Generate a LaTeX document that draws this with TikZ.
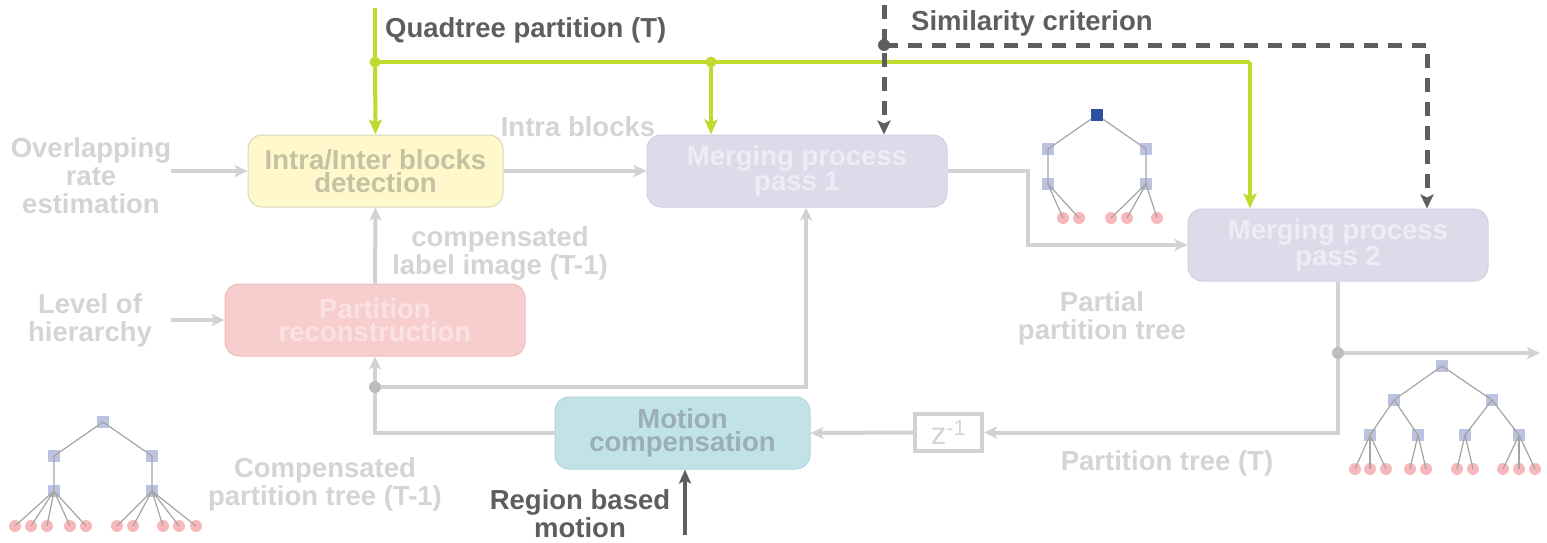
\documentclass[tikz,border=0pt]{standalone}
\usepackage{fontspec}
\setmainfont{Liberation Sans}
\usetikzlibrary{arrows.meta,calc}

\definecolor{lime}{HTML}{C2D92E}
\definecolor{darkg}{HTML}{5E5E5E}
\definecolor{lineg}{HTML}{D2D2D2}
\definecolor{labelg}{HTML}{D4D4D4}
\definecolor{dotg}{HTML}{BDBDBD}
\definecolor{yelfill}{HTML}{FFF8CC}
\definecolor{yeldraw}{HTML}{D8D5BC}
\definecolor{yeltext}{HTML}{C6C1A2}
\definecolor{lavfill}{HTML}{DDDAEA}
\definecolor{lavdraw}{HTML}{D2CFE2}
\definecolor{lavtext}{HTML}{EEEDF5}
\definecolor{pinkfill}{HTML}{F8CDCE}
\definecolor{pinkdraw}{HTML}{EBBDBE}
\definecolor{pinktext}{HTML}{FBE2E2}
\definecolor{cyanfill}{HTML}{C2E2E9}
\definecolor{cyandraw}{HTML}{B2D5DC}
\definecolor{cyantext}{HTML}{9AAFB5}
\definecolor{sqfill}{HTML}{BCC3E0}
\definecolor{leaffill}{HTML}{F8B8BB}
\definecolor{rootfill}{HTML}{2F4FA3}
\definecolor{treeline}{HTML}{A4A4A4}

\tikzset{
  proc/.style={rounded corners=14pt, line width=1pt, minimum height=72pt,
    inner sep=0pt, align=center, font=\fontsize{27.5}{23.5}\selectfont\bfseries},
  lbl/.style={inner sep=0pt, align=center, text=labelg,
    font=\fontsize{27.5}{28}\selectfont\bfseries},
  dlbl/.style={lbl, text=darkg},
  gline/.style={draw=lineg, line width=4pt},
  garrow/.style={gline, -{Stealth[length=13pt,width=12pt,inset=3pt]}},
  limeline/.style={draw=lime, line width=4pt},
  limearrow/.style={limeline, -{Stealth[length=15pt,width=13pt,inset=3pt]}},
  dashline/.style={draw=darkg, line width=5pt, dash pattern=on 14pt off 10pt},
  dasharrow/.style={dashline, -{Stealth[length=14pt,width=13pt,inset=3pt]}},
  darrow/.style={draw=darkg, line width=4pt, -{Stealth[length=14pt,width=12pt,inset=3pt]}},
  sq/.style={fill=sqfill, minimum size=12pt, inner sep=0pt},
  rootsq/.style={fill=rootfill, minimum size=12pt, inner sep=0pt},
  leaf/.style={circle, fill=leaffill, minimum size=12pt, inner sep=0pt},
  tedge/.style={draw=treeline, line width=1.2pt},
}

\begin{document}
\begin{tikzpicture}[x=1pt,y=-1pt]
\useasboundingbox (0,0) rectangle (1547,542);

% processing blocks
\node[proc, fill=yelfill, draw=yeldraw, text=yeltext, minimum width=255pt]
  (intra) at (375.5,171) {Intra/Inter blocks\\detection};
\node[proc, fill=lavfill, draw=lavdraw, text=lavtext, minimum width=300pt]
  (merge1) at (797,171) {Merging process\\pass 1};
\node[proc, fill=lavfill, draw=lavdraw, text=lavtext, minimum width=300pt]
  (merge2) at (1338,245) {Merging process\\pass 2};
\node[proc, fill=pinkfill, draw=pinkdraw, text=pinktext, minimum width=300pt]
  (recon) at (375,320) {Partition\\reconstruction};
\node[proc, fill=cyanfill, draw=cyandraw, text=cyantext, minimum width=255pt]
  (motion) at (682.5,433) {Motion\\compensation};
\node[draw=lineg, line width=4pt, fill=white, minimum width=67pt, minimum height=37pt,
  inner sep=0pt, text=labelg, font=\fontsize{31}{31}\selectfont]
  (zbox) at (948.5,432.5) {z\textsuperscript{-1}};

% labels
\node[lbl] (overlap) at (91,176) {Overlapping\\rate\\estimation};
\node[lbl] (level) at (90,320) {Level of\\hierarchy};
\node[lbl] (intralbl) at (578,127) {Intra blocks};
\node[lbl] (complbl) at (500,253) {compensated\\label image (T-1)};
\node[lbl] (partial) at (1102,318) {Partial\\partition tree};
\node[lbl] (comptree) at (325,484) {Compensated\\partition tree (T-1)};
\node[lbl] (ptree) at (1167,463) {Partition tree (T)};
\node[dlbl] (rbmlbl) at (580,514) {Region based\\motion};
\node[dlbl, anchor=base west] (qtlbl) at (385,37) {Quadtree partition (T)};
\node[dlbl, anchor=base west] (simlbl) at (911,30) {Similarity criterion};

% quadtree partition feed
\coordinate (qtop) at (375,8);
\coordinate (qsplit) at (375,62);
\coordinate (q2) at (711,62);
\coordinate (qcorner) at (1250,62);
\draw[limeline] (qtop) -- (qsplit) -- (qcorner);
\draw[limearrow] (qsplit) -- (intra.north);
\draw[limearrow] (q2) -- (q2 |- merge1.north);
\draw[limearrow] (qcorner) -- (qcorner |- merge2.north);
\fill[lime] (qsplit) circle (5.5) (q2) circle (5.5);

% similarity criterion feed
\coordinate (stop) at (884,5);
\coordinate (ssplit) at (884,45);
\coordinate (scorner) at (1427,45);
\draw[dasharrow] (stop) -- (stop |- merge1.north);
\draw[dasharrow] (ssplit) -- (scorner) -- (scorner |- merge2.north);
\fill[darkg] (ssplit) circle (6);

% main data flow
\draw[garrow] (overlap.east |- intra.west) -- (intra.west);
\draw[garrow] (overlap.east |- recon.west) -- (recon.west);
\draw[garrow] (intra.east) -- (merge1.west);
\coordinate (m1turn) at (1028,171);
\draw[garrow] (merge1.east) -- (m1turn) |- (merge2.west);
\coordinate (outsplit) at (1338,353);
\coordinate (outend) at (1540,353);
\draw[garrow] (merge2.south) |- (zbox.east);
\draw[garrow] (outsplit) -- (outend);
\draw[garrow] (zbox.west) -- (motion.east);
\draw[garrow] (motion.west) -| (recon.south);
\coordinate (bsplit) at (375,387);
\coordinate (m1in) at (806,387);
\draw[garrow] (bsplit) -- (m1in) -- (m1in |- merge1.south);
\draw[garrow] (recon.north) -- (intra.south);
\fill[dotg] (bsplit) circle (6) (outsplit) circle (6);
\coordinate (rbm) at (685,535);
\draw[darrow] (rbm) -- (rbm |- motion.south);

% partial partition tree
\node[rootsq] (a0) at (1097,115) {};
\node[sq] (a1) at (1048,149) {};
\node[sq] (a2) at (1146,149) {};
\node[sq] (a3) at (1048,184) {};
\node[sq] (a4) at (1146,184) {};
\foreach \x [count=\i] in {1063,1079} \node[leaf] (al\i) at (\x,218) {};
\foreach \x [count=\i] in {1111,1127,1157} \node[leaf] (ar\i) at (\x,218) {};
\draw[tedge] (a0) -- (a1.center) -- (a3.center) (a0) -- (a2.center) -- (a4.center);
\foreach \i in {1,2} \draw[tedge] (a3.center) -- (al\i.center);
\foreach \i in {1,2,3} \draw[tedge] (a4.center) -- (ar\i.center);

% compensated partition tree
\node[sq] (b0) at (103,422) {};
\node[sq] (b1) at (54,456) {};
\node[sq] (b2) at (152,456) {};
\node[sq] (b3) at (54,491) {};
\node[sq] (b4) at (152,491) {};
\foreach \x [count=\i] in {15,31,47,70,86} \node[leaf] (bl\i) at (\x,526) {};
\foreach \x [count=\i] in {117,133,163,179,196} \node[leaf] (br\i) at (\x,526) {};
\draw[tedge] (b0.center) -- (b1.center) -- (b3.center) (b0.center) -- (b2.center) -- (b4.center);
\foreach \i in {1,...,5} \draw[tedge] (b3.center) -- (bl\i.center) (b4.center) -- (br\i.center);

% partition tree
\node[sq] (c0) at (1442,366) {};
\node[sq] (c1) at (1394,400) {};
\node[sq] (c2) at (1492,400) {};
\node[sq] (c3) at (1370,435) {};
\node[sq] (c4) at (1418,435) {};
\node[sq] (c5) at (1465,435) {};
\node[sq] (c6) at (1519,435) {};
\foreach \x [count=\i] in {1355,1370,1386} \node[leaf] (cp\i) at (\x,469) {};
\foreach \x [count=\i] in {1410,1426} \node[leaf] (cq\i) at (\x,469) {};
\foreach \x [count=\i] in {1457,1473} \node[leaf] (cr\i) at (\x,469) {};
\foreach \x [count=\i] in {1503,1519,1535} \node[leaf] (cs\i) at (\x,469) {};
\draw[tedge] (c0.center) -- (c1.center) (c0.center) -- (c2.center)
  (c1.center) -- (c3.center) (c1.center) -- (c4.center)
  (c2.center) -- (c5.center) (c2.center) -- (c6.center);
\foreach \i in {1,2,3} \draw[tedge] (c3.center) -- (cp\i.center) (c6.center) -- (cs\i.center);
\foreach \i in {1,2} \draw[tedge] (c4.center) -- (cq\i.center) (c5.center) -- (cr\i.center);
\end{tikzpicture}
\end{document}
